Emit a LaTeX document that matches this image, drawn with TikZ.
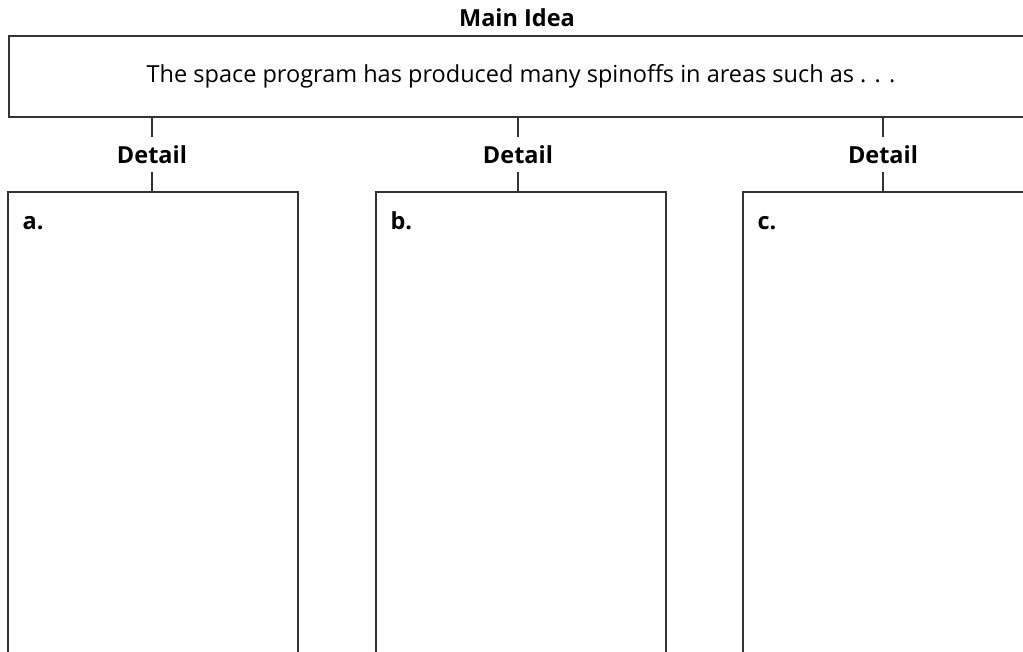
\documentclass[tikz,border=0pt]{standalone}
\usepackage{fontspec}
\setmainfont{Open Sans}
\tikzset{
  frame/.style={draw=black!80, line width=1.2pt, rectangle, inner sep=0pt},
  headlbl/.style={font=\fontsize{23.5}{28}\selectfont\bfseries, inner sep=0pt},
  boxlbl/.style={font=\fontsize{23.5}{28}\selectfont\bfseries, inner sep=0pt, anchor=base west},
  link/.style={draw=black!80, line width=1.2pt}
}
\begin{document}
\begin{tikzpicture}[x=1pt, y=-1pt]
  \useasboundingbox (0,0) rectangle (1023,652);
  \clip (0,0) rectangle (1023,652);
  % main idea
  \node [headlbl] (mainlbl) at (517,18) {Main Idea};
  \node [frame, minimum width=1024pt, minimum height=81pt,
         font=\fontsize{23.5}{28}\selectfont] (main) at (521,76.5)
        {\raisebox{-2.5pt}{The space program has produced many spinoffs in areas such as . . .}};
  % details
  \node [headlbl, minimum height=35pt] (deta) at (152,154.5) {Detail};
  \node [headlbl, minimum height=35pt] (detb) at (518,154.5) {Detail};
  \node [headlbl, minimum height=35pt] (detc) at (883,154.5) {Detail};
  \node [frame, minimum width=290pt, minimum height=480pt] (boxa) at (153,432) {};
  \node [frame, minimum width=290pt, minimum height=480pt] (boxb) at (521,432) {};
  \node [frame, minimum width=290pt, minimum height=480pt] (boxc) at (888,432) {};
  \node [boxlbl] (la) at ([xshift=15pt, yshift=-38.5pt]boxa.north west) {a.};
  \node [boxlbl] (lb) at ([xshift=15pt, yshift=-38.5pt]boxb.north west) {b.};
  \node [boxlbl] (lc) at ([xshift=15pt, yshift=-38.5pt]boxc.north west) {c.};
  % connectors
  \foreach \d/\b in {deta/boxa, detb/boxb, detc/boxc} {
    \draw [link] (main.south -| \d.north) -- (\d.north);
    \draw [link] (\d.south) -- (\d.south |- \b.north);
  }
\end{tikzpicture}
\end{document}
